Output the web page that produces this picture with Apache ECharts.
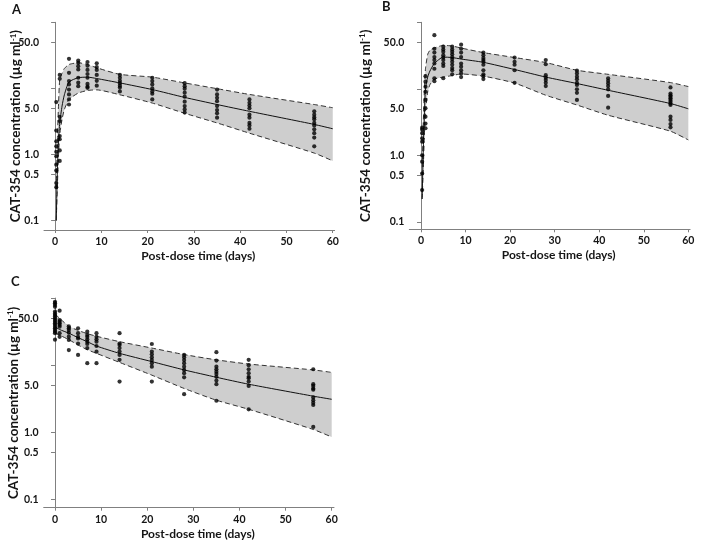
<!DOCTYPE html>
<html><head><meta charset="utf-8">
<script src="https://cdn.jsdelivr.net/npm/echarts@6/dist/echarts.min.js"></script>
<style>html,body{margin:0;padding:0;background:#fff}#c{width:710px;height:541px}</style>
</head><body><div id="c"></div>
<script>
// ---- tick labels ----
const xTicks = [0, 10, 20, 30, 40, 50, 60];
const yTicks = [0.1, 0.5, 1, 5, 10, 50, 100];
const yLabels = [0.1, 0.5, 1, 5, 50];

// ---- Panel A ----
const aBandT = [0.25, 0.5, 0.75, 1, 1.5, 2, 3, 5, 7, 9, 14, 21, 28, 35, 42, 56, 60];
const aMedian = [0.1, 0.6, 1.7, 3.0, 5.4, 8.0, 12.5, 14.5, 14.8, 14.1, 12.1, 9.6, 7.3, 5.7, 4.5, 2.85, 2.45];
const aUpper  = [0.3, 1.8, 6, 13.5, 17, 20, 23, 24.4, 23, 20.5, 16.3, 14.8, 12.1, 9.9, 8.1, 5.7, 5.1];
const aLower  = [0.1, 0.35, 1.0, 2.0, 3.4, 4.8, 6.8, 8.5, 9.3, 9.5, 8.0, 6.0, 4.2, 3.0, 2.1, 1.05, 0.8];
const aDays = [0.25, 1, 3, 5, 7, 9, 14, 21, 28, 35, 42, 56];
const aObs = [
  [6.2, 2.3, 1.58, 1.33, 1.1, 0.94, 0.7, 0.57, 0.37, 0.32],
  [16, 14, 3.7, 3.2, 1.9, 1.7, 1.15, 0.8],
  [28, 17.2, 12.9, 11.5, 9.6, 8.1, 6.8, 5.7],
  [26.4, 24.4, 21.7, 19.3, 14.5, 12.2, 10.8],
  [25, 22, 19, 16.5, 14.5, 11.7, 10.6, 10.2],
  [24, 21, 19, 16, 13, 11],
  [16, 14.5, 13, 12, 11, 10.3, 9],
  [14.5, 12.9, 11.5, 10, 9, 8.3, 6.8],
  [12, 10.8, 9.9, 8.6, 7.5, 6.3, 5.4, 4.8, 4.3],
  [9.6, 8.1, 7.2, 6.4, 5.4, 4.7, 4.2, 3.6],
  [6.8, 6.05, 5.5, 5.0, 4.0, 3.6, 3.0, 2.75, 2.45],
  [4.5, 4.0, 3.65, 3.4, 3.0, 2.75, 2.4, 2.1, 1.8, 1.33]
];

// ---- Panel B ----
const bBandT = [0.25, 0.5, 0.75, 1, 1.5, 2, 3, 5, 7, 9, 14, 21, 28, 35, 42, 56, 60];
const bMedian = [0.22, 1.1, 4, 10, 15, 18.5, 24, 30, 29.5, 28, 25, 19.5, 15, 12, 9.5, 6.0, 5.0];
const bUpper  = [0.5, 3, 9, 20, 33, 38, 41, 45, 44, 41, 35, 29.5, 24.8, 19, 16.5, 12.4, 10.8];
const bLower  = [0.22, 0.6, 2, 4.5, 9, 11.5, 14, 15, 15.8, 16.7, 15.5, 12.2, 8, 5.7, 4.0, 2.3, 1.7];
const bDays = [0.25, 1, 3, 5, 7, 9, 14, 21, 28, 35, 42, 56];
const bObs = [
  [0.3, 0.53, 0.8, 1.0, 1.6, 1.8, 2.15, 2.45, 2.6],
  [2.55, 3.0, 3.8, 5.1, 6.8, 9.0, 10.7, 12.8, 15.5],
  [64, 40, 35, 30, 27, 24, 20, 14.4, 13],
  [43, 39, 36, 32, 29.5, 27, 24, 22, 14.4],
  [43, 39, 36, 33, 30, 28, 25.5, 23, 20.5, 19, 16.5],
  [46, 40, 35, 30, 24, 21.5, 19, 17, 15],
  [35, 32, 29, 27, 25.5, 23, 19, 16.5, 15.5, 14],
  [29.5, 25.5, 23, 19, 12.3],
  [27, 23.4, 16, 14.7, 13.5, 12.3, 11],
  [18.7, 17, 15.2, 13.9, 12.3, 11.4, 9.8, 8.7, 6.8],
  [14.4, 13.2, 12.1, 11, 9.8, 7.8, 5.2],
  [10.5, 8.5, 8, 7.6, 7.2, 6.8, 6.4, 6.0, 5.7, 3.8, 3.4, 2.95, 2.63]
];

// ---- Panel C ----
const cBandT = [0, 1, 3, 5, 7, 9, 14, 21, 28, 35, 42, 56, 60];
const cMedian = [37.5, 34, 30, 25.7, 22.4, 19.3, 15, 11.3, 8.5, 6.6, 5.2, 3.45, 3.1];
const cUpper  = [58, 50, 38, 33, 29.5, 27, 22.4, 18, 14.4, 12, 10.4, 8.5, 7.8];
const cLower  = [30, 28, 24, 20, 17, 15, 11, 7.1, 4.5, 3.0, 2.2, 1.1, 0.85];
const cDays = [0, 1, 3, 5, 7, 9, 14, 21, 28, 35, 42, 56];
const cObs = [
  [88, 84, 79, 74, 63, 59, 56, 53, 50, 47, 44.5, 42, 40, 37.5, 35.5, 33.5, 31.6, 30, 24],
  [65, 47, 44.5, 42, 39.8, 37.5, 30, 26.5],
  [38, 35.5, 33.5, 30.5, 26.6, 23.8, 16.8],
  [35.5, 30, 26.5, 25, 21, 14.2],
  [31.6, 28.2, 26.5, 24.3, 22.4, 20.7, 18, 10.7],
  [30, 26.5, 24.3, 22.4, 19.3, 15.9, 10.7],
  [30, 21, 20, 18, 16, 14.2, 12, 5.7],
  [20.7, 16, 14.5, 13.1, 11.9, 10.7, 9.5, 5.7],
  [14.2, 13.1, 11.9, 10.7, 9.5, 8.5, 7.6, 6.6, 3.7],
  [15.6, 11.7, 9.5, 8.7, 8.0, 7.4, 6.7, 5.9, 5.2, 2.95],
  [12, 10, 8.7, 7.6, 6.7, 6.4, 5.7, 4.9, 2.2],
  [8.7, 5.2, 4.9, 4.5, 4.3, 3.3, 3.0, 2.75, 2.55, 1.2]
];

const panelLetters = ['A', 'B', 'C'];
const xName = 'Post-dose time (days)';

const FONT = 'Lato';
const AXC = '#808080';
const TXT = '#151515';

const grids = [
  {left: 44, top: 22.3, width: 290.6, height: 207.7},
  {left: 409.3, top: 22.3, width: 280.8, height: 207},
  {left: 43.7, top: 298.1, width: 290.3, height: 209.6}
];
const xRanges = [[-2.4, 60.4], [-2.63, 60.4], [-2.45, 60.5]];
const yMins = [0.072, 0.077, 0.075];
const yNameGaps = [21, 37, 23];

function xAxis(gi) {
  return {
    type: 'value', gridIndex: gi, min: xRanges[gi][0], max: xRanges[gi][1],
    axisLine: {onZero: false, lineStyle: {color: AXC, width: 1}},
    axisTick: {show: true, customValues: xTicks, length: 3, lineStyle: {color: AXC}},
    axisLabel: {customValues: xTicks, fontFamily: FONT, fontWeight: 'bold', fontSize: 10.5, color: TXT, margin: 6},
    splitLine: {show: false},
    name: xName, nameLocation: 'middle', nameGap: 20, nameMoveOverlap: false,
    nameTextStyle: {fontFamily: FONT, fontWeight: 'bold', fontSize: 12, color: TXT, padding: [0, 0, 0, 18], verticalAlign: 'top'}
  };
}
function yAxis(gi) {
  return {
    type: 'log', logBase: 10, gridIndex: gi, min: yMins[gi], max: 100,
    axisLine: {show: true, lineStyle: {color: AXC, width: 1}},
    axisTick: {show: true, customValues: yTicks, length: 4, lineStyle: {color: AXC}},
    axisLabel: {customValues: yLabels, formatter: v => Number(v).toFixed(1),
      fontFamily: FONT, fontWeight: 'bold', fontSize: 10.5, color: TXT, margin: 5},
    splitLine: {show: false},
    name: 'CAT-354 concentration (µg ml{sup|-1})', nameLocation: 'middle', nameGap: yNameGaps[gi],
    nameMoveOverlap: false,
    nameTextStyle: {fontFamily: FONT, fontWeight: 'bold', fontSize: 13.5, color: TXT,
      rich: {sup: {fontFamily: FONT, fontWeight: 'bold', fontSize: 8, color: TXT, verticalAlign: 'top', padding: [0, 0, 6, 0]}}}
  };
}
function band(gi, t, up, lo) {
  return {
    type: 'custom', xAxisIndex: gi, yAxisIndex: gi, silent: true, z: 1,
    data: t.map((x, i) => [x, up[i], lo[i]]),
    encode: {x: 0, y: [1, 2]},
    renderItem: (params, api) => {
      if (params.dataIndex !== 0) return null;
      const pts = [];
      for (let i = 0; i < t.length; i++) pts.push(api.coord([t[i], up[i]]));
      for (let i = t.length - 1; i >= 0; i--) pts.push(api.coord([t[i], lo[i]]));
      return {type: 'polygon', shape: {points: pts}, style: {fill: '#cecece', stroke: null}};
    }
  };
}
function line(gi, t, v, dashed) {
  return {
    type: 'line', xAxisIndex: gi, yAxisIndex: gi, silent: true, z: 2,
    data: t.map((x, i) => [x, v[i]]), showSymbol: false, smooth: 0.2,
    lineStyle: {color: dashed ? '#333' : '#111', width: 1, type: dashed ? [5, 3] : 'solid'}
  };
}
function scatter(gi, days, obs) {
  const d = [];
  days.forEach((t, i) => obs[i].forEach(v => d.push([t, v])));
  return {type: 'scatter', xAxisIndex: gi, yAxisIndex: gi, silent: true, z: 3,
    data: d, symbol: 'circle', symbolSize: 4.2, itemStyle: {color: '#000'}};
}

const panels = [
  [aBandT, aMedian, aUpper, aLower, aDays, aObs],
  [bBandT, bMedian, bUpper, bLower, bDays, bObs],
  [cBandT, cMedian, cUpper, cLower, cDays, cObs]
];
const series = [];
panels.forEach((p, gi) => {
  series.push(band(gi, p[0], p[2], p[3]));
  series.push(line(gi, p[0], p[2], true));
  series.push(line(gi, p[0], p[3], true));
  series.push(line(gi, p[0], p[1], false));
  series.push(scatter(gi, p[4], p[5]));
});

const titlePos = [{left: 12, top: 3}, {left: 382, top: 0}, {left: 11, top: 275}];
const chart = echarts.init(document.getElementById('c'), null, {renderer: 'canvas'});
chart.setOption({
  animation: false,
  backgroundColor: '#fff',
  title: panelLetters.map((L, i) => ({text: L, left: titlePos[i].left, top: titlePos[i].top, padding: 0,
    textStyle: {fontFamily: FONT, fontWeight: 'bold', fontSize: 13, color: TXT}})),
  grid: grids,
  xAxis: [0, 1, 2].map(xAxis),
  yAxis: [0, 1, 2].map(yAxis),
  series: series
});
</script></body></html>
